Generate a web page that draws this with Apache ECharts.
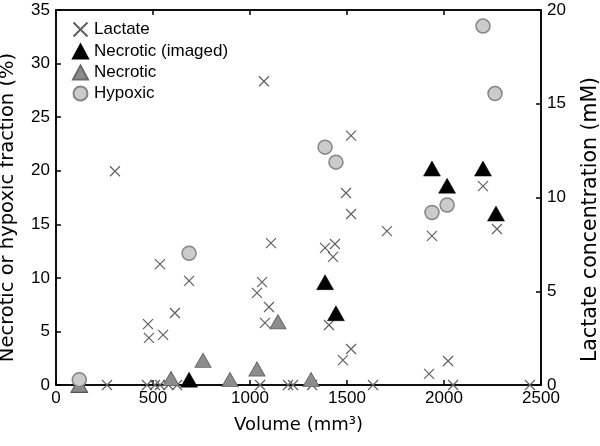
<!DOCTYPE html>
<html>
<head>
<meta charset="utf-8">
<script src="https://cdn.jsdelivr.net/npm/echarts@6/dist/echarts.min.js"></script>
<style>
html,body{margin:0;padding:0;background:#fff;}
#c{width:600px;height:446px;}
</style>
</head>
<body>
<div id="c"></div>
<script>
// ---- data ----
var xTicks = [0, 500, 1000, 1500, 2000, 2500];
var leftTicks = [0, 5, 10, 15, 20, 25, 30, 35];
var rightTicks = [0, 5, 10, 15, 20];

var lactateVol  = [304, 536, 686, 613, 474, 479, 552, 1072, 1108, 1062, 1036, 1098, 1077,
                   1521, 1495, 1521, 1387, 1438, 1428, 1407, 1521, 1479, 1706, 1938, 2201, 2273, 2021, 1923,
                   120, 263, 469, 510, 536, 580, 624, 1052, 1196, 1222, 1320, 1634, 2047, 2443];
var lactateConc = [11.4, 6.45, 5.55, 3.84, 3.25, 2.51, 2.67, 16.2, 7.57, 5.49, 4.91, 4.16, 3.31,
                   13.3, 10.24, 9.12, 7.31, 7.52, 6.83, 3.2, 1.92, 1.33, 8.21, 7.95, 10.61, 8.32, 1.28, 0.59,
                   0, 0, 0, 0, 0, 0, 0, 0, 0, 0, 0, 0, 0, 0];

var necImgVol  = [120, 686, 1387, 1443, 1938, 2016, 2201, 2268];
var necImgFrac = [0, 0.5, 9.6, 6.7, 20.2, 18.6, 20.2, 16.0];

var necVol  = [120, 593, 758, 897, 1036, 1144, 1315];
var necFrac = [0, 0.6, 2.3, 0.5, 1.5, 5.9, 0.5];

var hypVol  = [120, 686, 1387, 1443, 1938, 2016, 2201, 2263];
var hypFrac = [0.5, 12.3, 22.2, 20.8, 16.1, 16.8, 33.5, 27.2];

function pairs(xs, ys) { return xs.map(function (x, i) { return [x, ys[i]]; }); }

var FONT = 'Liberation Sans, Arial, sans-serif';
var TFONT = 'DejaVu Sans, sans-serif';
function line() { return { show: true, onZero: false, lineStyle: { color: '#000000', width: 1.5 } }; }
function tick() { return { show: true, inside: true, length: 5, lineStyle: { color: '#000000', width: 1.5 } }; }
function plain(v) { return String(v); }

var chart = echarts.init(document.getElementById('c'));
chart.setOption({
  animation: false,
  backgroundColor: '#fff',
  grid: { left: 56, right: 59, top: 10, bottom: 61, containLabel: false, outerBoundsMode: 'none',
          show: true, borderColor: '#000', borderWidth: 1.5, backgroundColor: 'rgba(0,0,0,0)' },
  legend: {
    left: 66, top: 15, orient: 'vertical',
    itemWidth: 15, itemHeight: 14, itemGap: 4,
    textStyle: { fontFamily: FONT, fontSize: 17, color: '#000', padding: [0, 0, 0, 1] },
    data: ['Lactate', 'Necrotic (imaged)', 'Necrotic', 'Hypoxic']
  },
  xAxis: [{
    type: 'value', min: xTicks[0], max: xTicks[xTicks.length - 1], interval: 500,
    position: 'bottom',
    name: 'Volume (mm³)', nameLocation: 'middle', nameGap: 31,
    nameTextStyle: { fontFamily: TFONT, fontSize: 18, color: '#000', verticalAlign: 'top' },
    axisLine: line(), axisTick: tick(),
    axisLabel: { fontFamily: FONT, fontSize: 17, color: '#000', margin: 5, formatter: plain },
    splitLine: { show: false }
  }, {
    type: 'value', min: xTicks[0], max: xTicks[xTicks.length - 1], interval: 500,
    position: 'top',
    axisLine: line(), axisTick: tick(),
    axisLabel: { show: false },
    splitLine: { show: false }
  }],
  yAxis: [{
    type: 'value', min: leftTicks[0], max: leftTicks[leftTicks.length - 1], interval: 5,
    position: 'left',
    name: 'Necrotic or hypoxic fraction (%)', nameLocation: 'middle', nameGap: 38, nameRotate: 90,
    nameTextStyle: { fontFamily: TFONT, fontSize: 19.5, color: '#000', padding: [0, 20, 0, 0] },
    axisLine: line(), axisTick: tick(),
    axisLabel: { fontFamily: FONT, fontSize: 17, color: '#000', margin: 6, formatter: plain },
    splitLine: { show: false }
  }, {
    type: 'value', min: rightTicks[0], max: rightTicks[rightTicks.length - 1], interval: 5,
    position: 'right',
    name: 'Lactate concentration (mM)', nameLocation: 'middle', nameGap: 39, nameRotate: 90,
    nameTextStyle: { fontFamily: TFONT, fontSize: 20.5, color: '#000', padding: [0, 44, 0, 0] },
    axisLine: line(), axisTick: tick(),
    axisLabel: { fontFamily: FONT, fontSize: 17, color: '#000', margin: 6, formatter: plain },
    splitLine: { show: false }
  }],
  series: [{
    name: 'Lactate', type: 'scatter', yAxisIndex: 1,
    symbol: 'path://M0,0L10,10M10,0L0,10', symbolSize: 10,
    itemStyle: { color: 'none', borderColor: '#606060', borderWidth: 1.2, opacity: 1 },
    data: pairs(lactateVol, lactateConc)
  }, {
    name: 'Necrotic (imaged)', type: 'scatter', yAxisIndex: 0,
    symbol: 'triangle', symbolSize: [17, 15],
    itemStyle: { color: '#000', borderColor: '#000', borderWidth: 0.5, opacity: 1 },
    data: pairs(necImgVol, necImgFrac)
  }, {
    name: 'Necrotic', type: 'scatter', yAxisIndex: 0,
    symbol: 'triangle', symbolSize: [16, 14],
    itemStyle: { color: '#8c8c8c', borderColor: '#6a6a6a', borderWidth: 1, opacity: 1 },
    data: pairs(necVol, necFrac)
  }, {
    name: 'Hypoxic', type: 'scatter', yAxisIndex: 0,
    symbol: 'circle', symbolSize: 14,
    itemStyle: { color: '#cbcbcb', borderColor: '#858585', borderWidth: 1.5, opacity: 1 },
    data: pairs(hypVol, hypFrac)
  }]
});
</script>
</body>
</html>
